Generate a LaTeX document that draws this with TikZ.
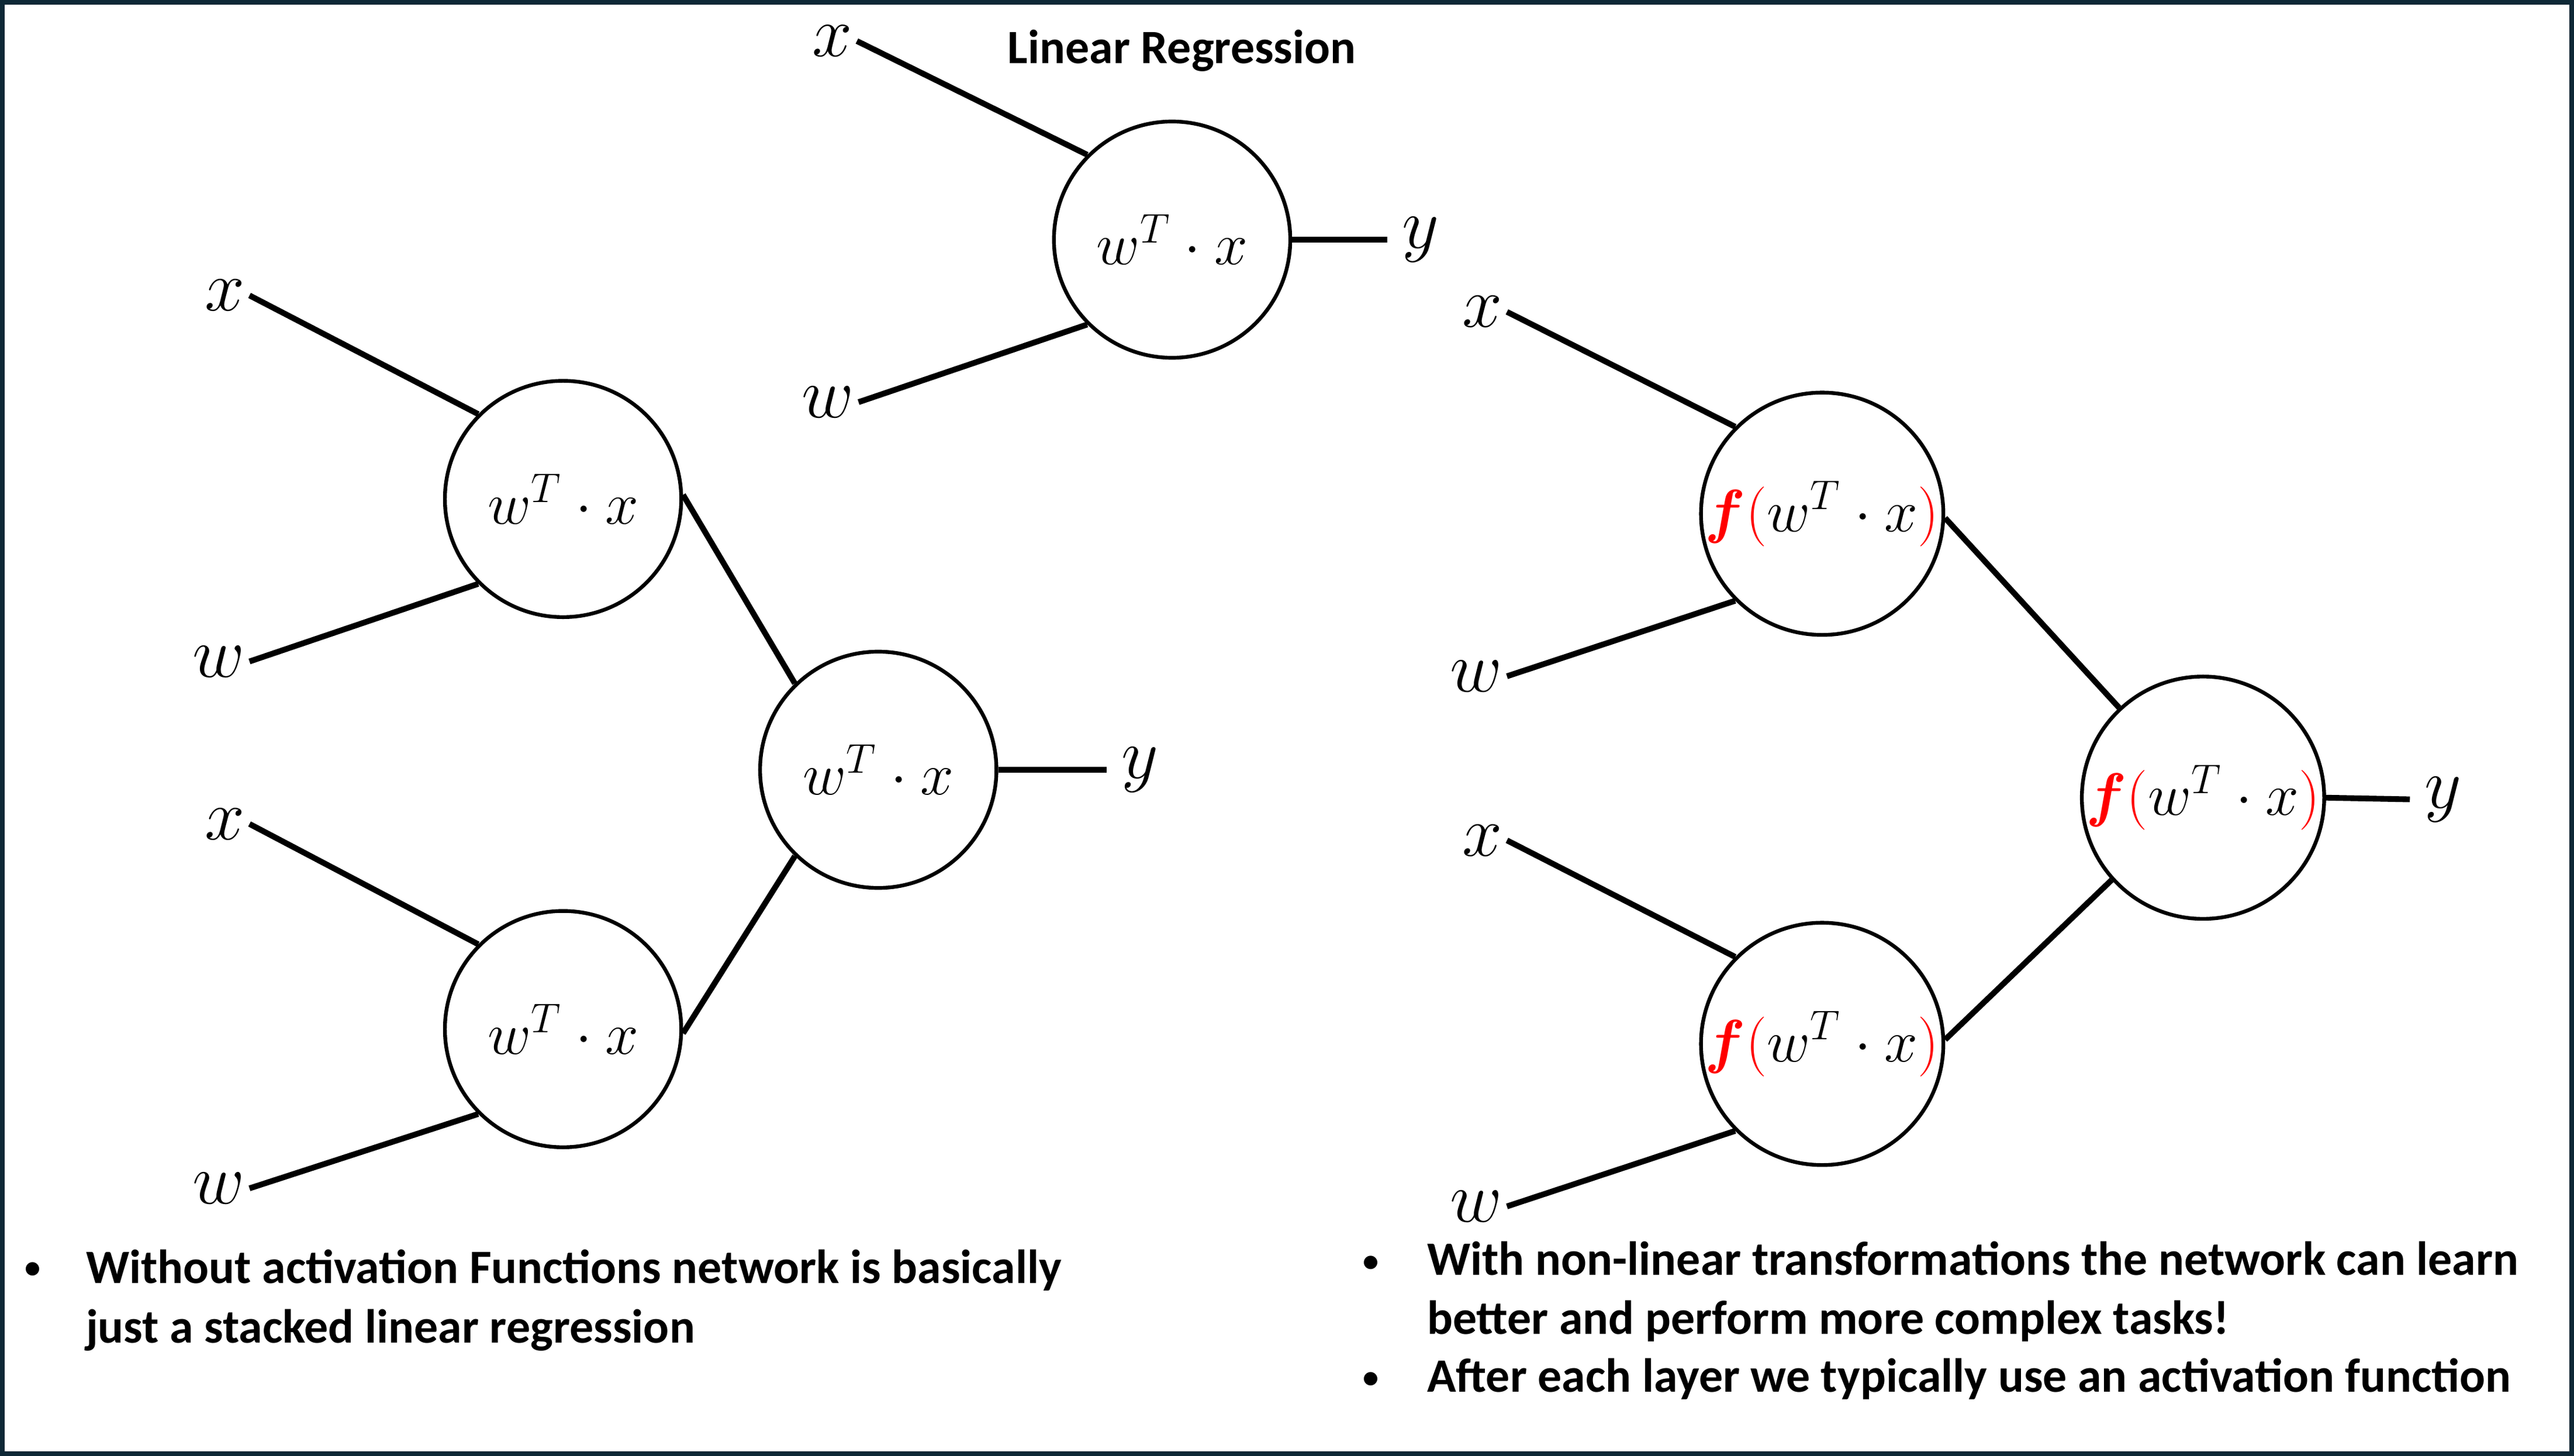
\documentclass[tikz,border=0pt]{standalone}
\usepackage{fontspec}
\setmainfont{Carlito}
\usepackage{amsmath,bm}
\definecolor{framenavy}{HTML}{0E2836}
\tikzset{
  neuron/.style={circle,draw,line width=1.3pt,minimum size=2.88cm,inner sep=0pt,font=\fontsize{20}{24}\selectfont},
  inlbl/.style={inner sep=1.5pt,font=\fontsize{23}{26}\selectfont},
  outlbl/.style={inner sep=5pt,anchor=west,font=\fontsize{23}{26}\selectfont},
  wire/.style={line width=2pt},
  note/.style={anchor=base west,align=left,inner sep=0pt,font=\fontsize{16.6}{20.5}\selectfont\bfseries},
  bul/.style={inner sep=0pt,font=\fontsize{11}{12}\selectfont\bfseries},
}
\newcommand{\linsum}{\fontsize{21.5}{24}\selectfont$w^{T}\cdot x$}
\newcommand{\actsum}{$\color{red}\bm{f}(\color{black}w^{T}\cdot x\color{red})$}
\begin{document}
\begin{tikzpicture}[x=0.02cm,y=-0.02cm]
		\useasboundingbox (0,0) rectangle (1568,887);
		\draw[framenavy,line width=1.6pt] (1.4,1.4) rectangle (1566.6,885.6);
		% single neuron
		\node[font=\fontsize{16.6}{18}\selectfont\bfseries] (title) at (720,31) {Linear Regression};
		\node[neuron] (top) at (714,146) {\linsum};
		\node[inlbl,anchor=east] (top-x) at (522,25) {$x$};
		\node[inlbl,anchor=east] (top-w) at (523,245) {$w$};
		\node[outlbl] (top-y) at (845,146) {$y$};
		% stacked linear neurons
		\node[neuron] (l1) at (343,304) {\linsum};
		\node[neuron] (l2) at (343,627) {\linsum};
		\node[neuron] (lo) at (535,469) {\linsum};
		\node[inlbl,anchor=east] (l1-x) at (152,180) {$x$};
		\node[inlbl,anchor=east] (l1-w) at (152,403) {$w$};
		\node[inlbl,anchor=east] (l2-x) at (152,502) {$x$};
		\node[inlbl,anchor=east] (l2-w) at (152,724) {$w$};
		\node[outlbl] (lo-y) at (674,469) {$y$};
		% neurons with activation
		\node[neuron] (r1) at (1110,313) {\actsum};
		\node[neuron] (r2) at (1110,636) {\actsum};
		\node[neuron] (ro) at (1342,486) {\actsum};
		\node[inlbl,anchor=east] (r1-x) at (918,190) {$x$};
		\node[inlbl,anchor=east] (r1-w) at (918,412) {$w$};
		\node[inlbl,anchor=east] (r2-x) at (918,512) {$x$};
		\node[inlbl,anchor=east] (r2-w) at (918,735) {$w$};
		\node[outlbl] (ro-y) at (1468,487) {$y$};
		\foreach \n in {top,l1,l2,r1,r2} {
			\draw[wire] (\n-x.east) -- (\n.135);
			\draw[wire] (\n-w.east) -- (\n.225);
		}
		\draw[wire] (top.east) -- (top-y.west);
		\draw[wire] (l1.2) -- (lo.134);
		\draw[wire] (l2.-2) -- (lo.226);
		\draw[wire] (lo.east) -- (lo-y.west);
		\draw[wire] (r1.-2) -- (ro.133);
		\draw[wire] (r2.2) -- (ro.222);
		\draw[wire] (ro.east) -- (ro-y.west);
		% notes
		\node[bul] (lb1) at (20,774) {\textbullet};
		\node[note] (lt1) at (52,818) {Without activation Functions network is basically\\just a stacked linear regression};
		\node[bul] (rb1) at (835,770) {\textbullet};
		\node[note] (rt1) at (869,813) {With non-linear transformations the network can learn\\better and perform more complex tasks!};
		\node[bul] (rb2) at (835,841) {\textbullet};
		\node[note] (rt2) at (869,848) {After each layer we typically use an activation function};
\end{tikzpicture}
\end{document}
